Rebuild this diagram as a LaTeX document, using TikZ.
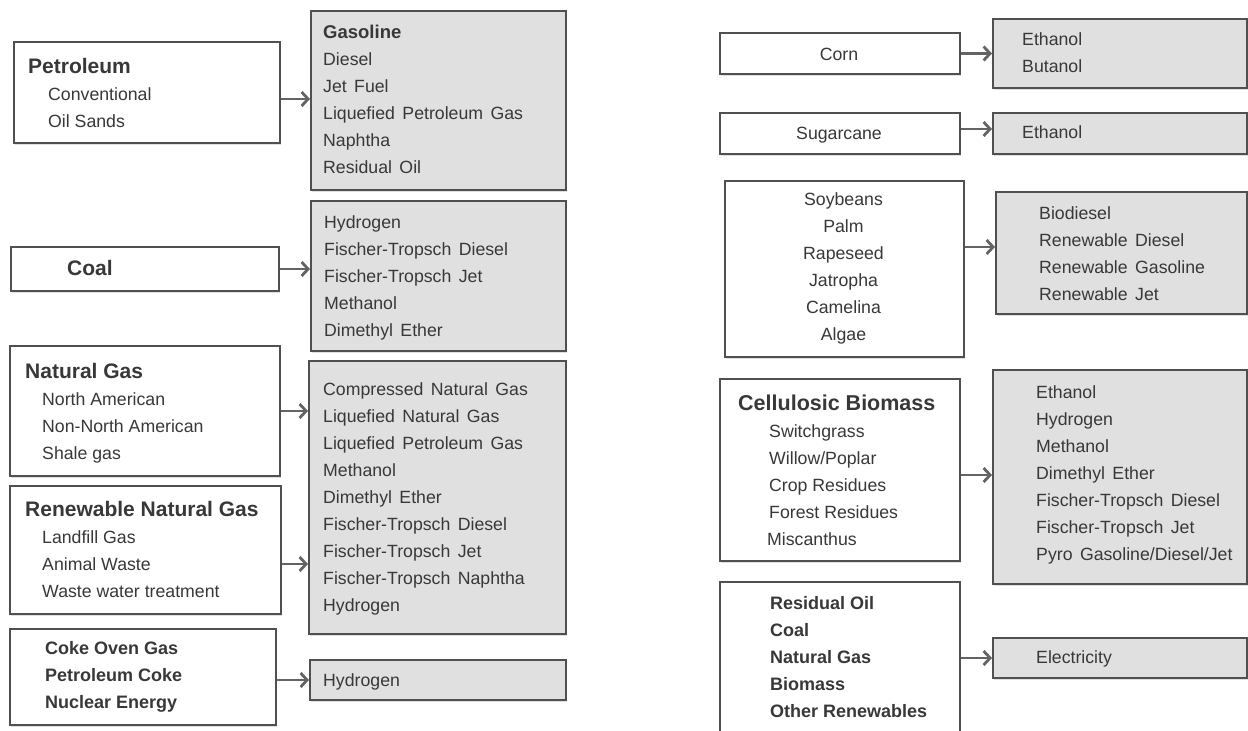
\documentclass[tikz,border=0pt]{standalone}
\usepackage{fontspec}
\setmainfont{Liberation Sans}
\usetikzlibrary{arrows.meta,shadows}
\definecolor{bordc}{HTML}{505050}
\definecolor{fillc}{HTML}{E0E0E0}
\definecolor{textc}{HTML}{383838}
\definecolor{arrc}{HTML}{646464}
\newcommand\hdg[1]{{\fontsize{21}{27}\selectfont\bfseries #1}}
\newcommand\bld[1]{{\fontsize{18}{27}\selectfont\bfseries #1}}
\newcommand\lblfont{\fontsize{17.7}{27}\selectfont}
\newcommand\widefont{\fontsize{17.7}{27}\selectfont\spaceskip=0.42em plus 0.1em\relax}
\begin{document}
\begin{tikzpicture}[x=1pt,y=-1pt,
  srcbox/.style={draw=bordc,line width=2pt,fill=white,inner sep=0pt,anchor=north west,
    drop shadow={shadow xshift=1.2pt,shadow yshift=-1.5pt,opacity=0.25}},
  outbox/.style={srcbox,fill=fillc},
  lbl/.style={anchor=west,align=left,inner sep=0pt,text=textc,font=\lblfont},
  wlbl/.style={lbl,font=\widefont},
  clbl/.style={lbl,anchor=center,align=center},
  conn/.style={draw=arrc,line width=2.8pt,-{Straight Barb[length=6.5pt,width=14pt]}}]
\fill[white] (0,0) rectangle (1248,731);
\useasboundingbox (0,0) rectangle (1248,731);

% ---------- left half: boxes ----------
\node[srcbox,minimum width=266pt,minimum height=101pt] (pet) at (13,41) {};
\node[outbox,minimum width=255pt,minimum height=179pt] (gas) at (310,10) {};
\node[srcbox,minimum width=268pt,minimum height=44pt] (coal) at (10,246) {};
\node[outbox,minimum width=255pt,minimum height=150pt] (ftb) at (310,200) {};
\node[srcbox,minimum width=270pt,minimum height=130pt] (ng) at (9,345) {};
\node[srcbox,minimum width=271pt,minimum height=128pt] (rng) at (9,485) {};
\node[outbox,minimum width=257pt,minimum height=273pt] (big) at (308,360) {};
\node[srcbox,minimum width=266pt,minimum height=96pt] (coke) at (9,628) {};
\node[outbox,minimum width=256pt,minimum height=40pt] (hyd) at (309,659) {};

% ---------- right half: boxes ----------
\node[srcbox,minimum width=240pt,minimum height=41pt] (corn) at (719,32) {};
\node[outbox,minimum width=254pt,minimum height=69pt] (cornout) at (992,18) {};
\node[srcbox,minimum width=240pt,minimum height=41pt] (sugar) at (719,112) {};
\node[outbox,minimum width=254pt,minimum height=41pt] (sugarout) at (992,112) {};
\node[srcbox,minimum width=239pt,minimum height=176pt] (soy) at (724,180) {};
\node[outbox,minimum width=251pt,minimum height=122pt] (soyout) at (995,191) {};
\node[srcbox,minimum width=240pt,minimum height=182pt] (cell) at (719,378) {};
\node[outbox,minimum width=254pt,minimum height=214pt] (cellout) at (992,369) {};
\node[srcbox,minimum width=240pt,minimum height=152pt] (res) at (719,581) {};
\node[outbox,minimum width=254pt,minimum height=40pt] (elec) at (992,637) {};

% ---------- left half: texts ----------
\node[lbl] (petT) at (28,93.4) {\hdg{Petroleum}\\\hspace*{20pt}Conventional\\\hspace*{20pt}Oil Sands};
\node[wlbl] (gasT) at (323,99.3) {{\fontsize{18.5}{27}\selectfont\bfseries Gasoline}\\Diesel\\Jet Fuel\\Liquefied Petroleum Gas\\Naphtha\\Residual Oil};
\node[lbl] (coalT) at (67,268) {\hdg{Coal}};
\node[wlbl] (ftT) at (324,277.8) {Hydrogen\\Fischer-Tropsch Diesel\\Fischer-Tropsch Jet\\Methanol\\Dimethyl Ether};
\node[lbl] (ngT) at (25,413.7) {\hdg{Natural Gas}\\\hspace*{17pt}North American\\\hspace*{17pt}Non-North American\\\hspace*{17pt}Shale gas};
\node[lbl] (rngT) at (25,549.9) {\hdg{Renewable Natural Gas}\\\hspace*{17pt}Landfill Gas\\\hspace*{17pt}Animal Waste\\\hspace*{17pt}Waste water treatment};
\node[wlbl] (bigT) at (323,499) {Compressed Natural Gas\\Liquefied Natural Gas\\Liquefied Petroleum Gas\\Methanol\\Dimethyl Ether\\Fischer-Tropsch Diesel\\Fischer-Tropsch Jet\\Fischer-Tropsch Naphtha\\Hydrogen};
\node[lbl] (cokeT) at (45,676.9) {\bld{Coke Oven Gas}\\\bld{Petroleum Coke}\\\bld{Nuclear Energy}};
\node[wlbl] (hydT) at (323,681.5) {Hydrogen};

% ---------- right half: texts ----------
\node[clbl] (cornT) at (839,54.4) {Corn};
\node[wlbl] (cornoutT) at (1022,52.5) {Ethanol\\Butanol};
\node[clbl] (sugarT) at (839,134.8) {Sugarcane};
\node[wlbl] (sugaroutT) at (1022,132.5) {Ethanol};
\node[clbl] (soyT) at (843.5,268.8) {Soybeans\\Palm\\Rapeseed\\Jatropha\\Camelina\\Algae};
\node[wlbl] (soyoutT) at (1039,254) {Biodiesel\\Renewable Diesel\\Renewable Gasoline\\Renewable Jet};
\node[lbl] (cellT) at (738,469.9) {{\fontsize{21.5}{27}\selectfont\bfseries Cellulosic Biomass}\\\hspace*{31pt}Switchgrass\\\hspace*{31pt}Willow/Poplar\\\hspace*{31pt}Crop Residues\\\hspace*{31pt}Forest Residues\\\hspace*{29pt}Miscanthus};
\node[wlbl] (celloutT) at (1036,474.5) {Ethanol\\Hydrogen\\Methanol\\Dimethyl Ether\\Fischer-Tropsch Diesel\\Fischer-Tropsch Jet\\Pyro Gasoline/Diesel/Jet};
\node[lbl] (resT) at (770,657.3) {\bld{Residual Oil}\\\bld{Coal}\\\bld{Natural Gas}\\\bld{Biomass}\\\bld{Other Renewables}};
\node[wlbl] (elecT) at (1036,659) {Electricity};

% ---------- connectors ----------
\draw[conn] ([yshift=-6.5pt]pet.east) -- ([yshift=-6.5pt]pet.east -| gas.west);
\draw[conn] (coal.east) -- (coal.east -| ftb.west);
\draw[conn] (ng.east) -- (ng.east -| big.west);
\draw[conn] ([yshift=-14pt]rng.east) -- ([yshift=-14pt]rng.east -| big.west);
\draw[conn] (hyd.west -| coke.east) -- (hyd.west);
\draw[conn] (corn.east) -- (corn.east -| cornout.west);
\draw[conn] ([yshift=4.5pt]sugar.east) -- ([yshift=4.5pt]sugar.east -| sugarout.west);
\draw[conn] ([yshift=22pt]soy.east) -- ([yshift=22pt]soy.east -| soyout.west);
\draw[conn] ([yshift=-5pt]cell.east) -- ([yshift=-5pt]cell.east -| cellout.west);
\draw[conn] (res.east) -- (res.east -| elec.west);
\end{tikzpicture}
\end{document}
